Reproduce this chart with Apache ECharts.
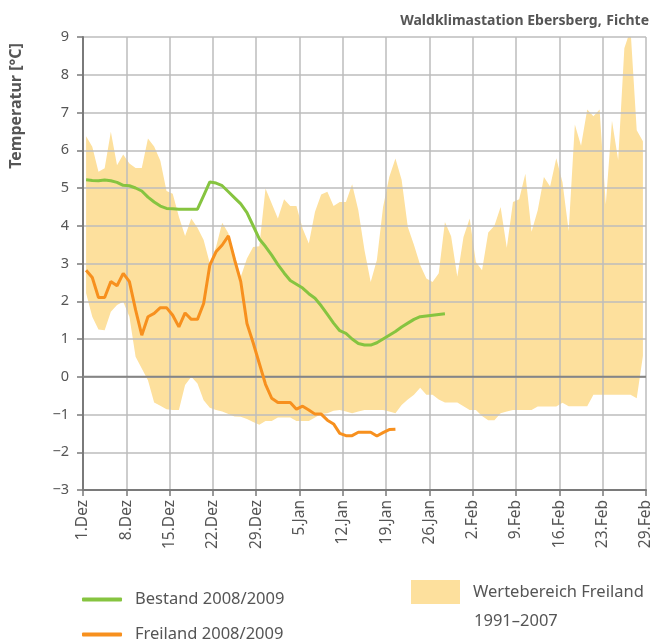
<!DOCTYPE html>
<html>
<head>
<meta charset="utf-8">
<script src="https://cdn.jsdelivr.net/npm/echarts@6/dist/echarts.min.js"></script>
<style>
html, body {margin: 0; padding: 0; background: #fff;}
#main {width: 654px; height: 644px;}
</style>
</head>
<body>
<div id="main"></div>
<script>
// tick labels every 7 days, starting 1.Dez
const tickLabels = ['1.Dez', '8.Dez', '15.Dez', '22.Dez', '29.Dez', '5.Jan', '12.Jan', '19.Jan', '26.Jan', '2.Feb', '9.Feb', '16.Feb', '23.Feb', '29.Feb'];

// daily means, day 0 = 1.Dez
const bestand = [5.22, 5.2, 5.19, 5.21, 5.19, 5.15, 5.07, 5.06, 5.0, 4.92, 4.76, 4.63, 4.52, 4.46, 4.45, 4.44, 4.44, 4.44, 4.44, 4.8,
	5.16, 5.13, 5.06, 4.9, 4.74, 4.58, 4.35, 4.0, 3.65, 3.45, 3.22, 2.97, 2.75, 2.55, 2.45, 2.35, 2.2, 2.08, 1.88, 1.65,
	1.42, 1.22, 1.15, 1.0, 0.88, 0.84, 0.84, 0.9, 1.0, 1.1, 1.2, 1.32, 1.42, 1.52, 1.59, 1.61, 1.63, 1.65, 1.67];

const freiland = [2.82, 2.63, 2.1, 2.1, 2.52, 2.41, 2.74, 2.52, 1.77, 1.1, 1.59, 1.68, 1.83, 1.83, 1.63, 1.32, 1.69, 1.52, 1.52, 1.94,
	2.96, 3.31, 3.49, 3.73, 3.1, 2.52, 1.41, 0.9, 0.35, -0.2, -0.57, -0.68, -0.68, -0.68, -0.86, -0.78, -0.88, -0.99, -0.99, -1.15,
	-1.25, -1.5, -1.56, -1.56, -1.47, -1.47, -1.47, -1.57, -1.48, -1.4, -1.39];

// range Freiland 1991-2007
const rangeMax = [6.37, 6.09, 5.43, 5.52, 6.49, 5.6, 5.89, 5.65, 5.53, 5.53, 6.31, 6.1, 5.72, 4.92, 4.85, 4.24, 3.73, 4.19, 3.95, 3.62,
	3.0, 3.44, 4.08, 3.8, 3.2, 2.65, 3.13, 3.44, 3.46, 4.99, 4.59, 4.19, 4.7, 4.52, 4.52, 3.93, 3.53, 4.37, 4.83, 4.9,
	4.52, 4.63, 4.63, 5.1, 4.41, 3.35, 2.51, 3.09, 4.5, 5.29, 5.78, 5.22, 3.97, 3.49, 2.96, 2.6, 2.51, 2.74, 4.1, 3.72,
	2.65, 3.7, 4.19, 3.04, 2.82, 3.82, 4.0, 4.5, 3.42, 4.63, 4.7, 5.38, 3.84, 4.41, 5.29, 5.04, 5.79, 5.15, 3.86, 6.68,
	6.12, 7.08, 6.9, 7.08, 4.56, 6.78, 5.74, 8.7, 9.2, 6.53, 6.24];
const rangeMin = [2.21, 1.59, 1.25, 1.23, 1.72, 1.9, 1.99, 1.59, 0.53, 0.22, -0.09, -0.68, -0.77, -0.86, -0.88, -0.88, -0.22, 0.0, -0.18, -0.62,
	-0.82, -0.88, -0.92, -0.99, -1.05, -1.06, -1.12, -1.2, -1.27, -1.17, -1.17, -1.08, -1.08, -1.08, -1.17, -1.17, -1.17, -1.08, -0.99, -0.97,
	-0.9, -0.88, -0.92, -0.97, -0.92, -0.88, -0.88, -0.88, -0.88, -0.92, -0.97, -0.75, -0.6, -0.48, -0.29, -0.48, -0.48, -0.6, -0.68, -0.68,
	-0.68, -0.78, -0.88, -0.88, -1.04, -1.15, -1.15, -0.97, -0.92, -0.88, -0.88, -0.88, -0.88, -0.79, -0.79, -0.79, -0.79, -0.69, -0.78, -0.78,
	-0.78, -0.78, -0.48, -0.48, -0.48, -0.48, -0.48, -0.48, -0.48, -0.57, 0.55];

const FONT = 'Noto Sans';
const TXT = '#555';
const BAND = '#FDE09D';
const GREEN = '#86C440';
const ORANGE = '#F7901E';
const GRIDLINE = '#bcbcbc';

function pts(arr) {
	return arr.map((v, i) => [i + 0.5, v]);
}
function minus(v) {
	return String(v).replace('-', '\u2212');
}

let chart = echarts.init(document.getElementById('main'));
// band z 1, axes (with grid lines) z 3 on top of it, lines z 5+
let option = {
	animation: false,
	textStyle: {fontFamily: FONT},
	title: {
		right: 0, top: 7,
		text: '{b|Waldklimastation Ebersberg,} {n|Fichte}',
		textStyle: {
			rich: {
				b: {fontFamily: FONT, fontSize: 14, fontWeight: 'bold', color: TXT},
				n: {fontFamily: FONT, fontSize: 14, color: TXT}
			}
		}
	},
	grid: {left: 83, right: 3, top: 37, bottom: 154},
	xAxis: {
		type: 'value', min: 0, max: 91, interval: 7, z: 3,
		axisLine: {onZero: false, lineStyle: {color: '#7a7a7a', width: 2}},
		axisTick: {show: true, length: 6, lineStyle: {color: '#7a7a7a', width: 1.5}},
		axisLabel: {
			rotate: 90, margin: 10, fontSize: 15.5, color: TXT, fontFamily: FONT,
			formatter: v => tickLabels[Math.round(v / 7)]
		},
		splitLine: {show: true, showMinLine: false, lineStyle: {color: GRIDLINE, width: 1.5}}
	},
	yAxis: {
		type: 'value', min: -3, max: 9, interval: 1, z: 3,
		axisLine: {show: true, lineStyle: {color: '#7a7a7a', width: 2}},
		axisTick: {show: true, length: 6, lineStyle: {color: '#7a7a7a', width: 1.5}},
		axisLabel: {margin: 14, fontSize: 14.5, color: TXT, fontFamily: FONT, formatter: minus},
		splitLine: {show: true, showMinLine: false, lineStyle: {color: GRIDLINE, width: 1.5}}
	},
	graphic: [{
		type: 'text', x: 16, y: 106, rotation: Math.PI / 2,
		style: {text: 'Temperatur [°C]', fontFamily: FONT, fontSize: 16, fontWeight: 'bold', fill: TXT, align: 'center', verticalAlign: 'middle'}
	}, {
		type: 'text', x: 474, y: 621,
		style: {text: '1991\u20132007', fontFamily: FONT, fontSize: 16.5, fill: TXT, align: 'left', verticalAlign: 'middle'}
	}],
	legend: [{
		data: ['Bestand 2008/2009'], left: 77, top: 586, icon: 'roundRect', itemWidth: 40, itemHeight: 4,
		textStyle: {fontSize: 16.5, color: TXT, fontFamily: FONT, padding: [0, 0, 0, 8]}
	}, {
		data: ['Freiland 2008/2009'], left: 77, top: 621, icon: 'roundRect', itemWidth: 40, itemHeight: 4,
		textStyle: {fontSize: 16.5, color: TXT, fontFamily: FONT, padding: [0, 0, 0, 8]}
	}, {
		data: ['Wertebereich Freiland'], left: 406, top: 575, icon: 'rect', itemWidth: 49, itemHeight: 24,
		textStyle: {fontSize: 16.5, color: TXT, fontFamily: FONT, padding: [5, 0, 0, 8]}
	}],
	series: [{
		name: 'Wertebereich Freiland', type: 'custom', z: 1, silent: true,
		itemStyle: {color: BAND},
		data: [[0, 0]],
		renderItem: (params, api) => {
			const upper = rangeMax.map((v, i) => api.coord([i + 0.5, v]));
			const lower = rangeMin.map((v, i) => api.coord([i + 0.5, v])).reverse();
			const cs = params.coordSys;
			return {
				type: 'polygon',
				shape: {points: upper.concat(lower)},
				style: {fill: BAND},
				clipPath: {type: 'rect', shape: {x: cs.x, y: cs.y, width: cs.width, height: cs.height}}
			};
		}
	}, {
		name: 'zero', type: 'custom', z: 4, silent: true,
		data: [[0, 0]],
		renderItem: (params, api) => {
			const a = api.coord([0, 0]);
			const b = api.coord([91, 0]);
			return {
				type: 'line',
				shape: {x1: a[0], y1: a[1], x2: b[0], y2: b[1]},
				style: {stroke: '#858585', lineWidth: 2}
			};
		}
	}, {
		name: 'Bestand 2008/2009', type: 'line', data: pts(bestand),
		symbol: 'none', z: 5,
		itemStyle: {color: GREEN},
		lineStyle: {color: GREEN, width: 3}
	}, {
		name: 'Freiland 2008/2009', type: 'line', data: pts(freiland),
		symbol: 'none', z: 6,
		itemStyle: {color: ORANGE},
		lineStyle: {color: ORANGE, width: 3}
	}]
};
chart.setOption(option);
</script>
</body>
</html>
